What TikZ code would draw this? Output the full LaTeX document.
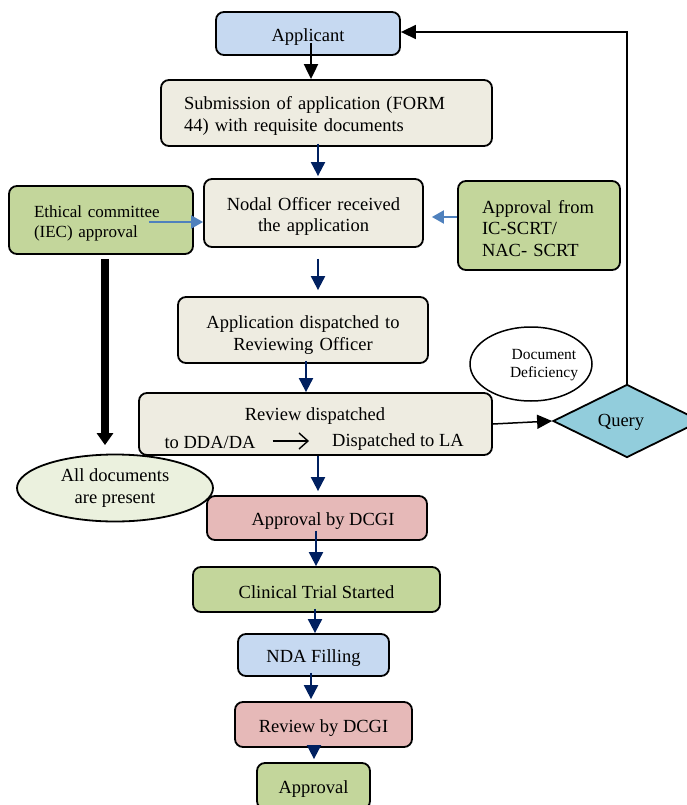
\documentclass[tikz,border=0pt]{standalone}
\usepackage{fontspec}
\setmainfont{Liberation Serif}
\usetikzlibrary{arrows.meta,shapes.geometric}
\definecolor{cblue}{HTML}{C6D9F1}
\definecolor{cbeige}{HTML}{EEECE1}
\definecolor{cgreen}{HTML}{C3D69B}
\definecolor{cpink}{HTML}{E6B9B8}
\definecolor{ccyan}{HTML}{92CDDC}
\definecolor{cpale}{HTML}{EBF1DE}
\definecolor{cnavy}{HTML}{002060}
\definecolor{carrowblue}{HTML}{4F81BD}
\tikzset{
  box/.style={draw=black, line width=1.8pt, rounded corners=8pt, inner sep=0pt, align=center,
    font=\fontsize{18.5}{21.5}\selectfont, execute at begin node={\rule{0pt}{19pt}}},
  txt/.style={inner sep=0pt, font=\fontsize{18.5}{21.5}\selectfont},
  navyarrow/.style={draw=cnavy, line width=2pt, -{Triangle[width=14pt,length=14pt]}, fill=cnavy},
  bluearrow/.style={draw=carrowblue, line width=2pt, -{Triangle[width=13pt,length=12pt]}},
  blkarrow/.style={draw=black, line width=2pt, -{Triangle[width=14pt,length=15pt]}},
  thickarrow/.style={draw=black, line width=8pt, -{Triangle[width=16pt,length=12pt]}},
}
\begin{document}
\begin{tikzpicture}[x=1pt,y=-1pt]
\useasboundingbox (0,0) rectangle (686,805);
% boxes
\node[box, fill=cblue, minimum width=184pt, minimum height=43pt] (app) at (308,33.5) {Applicant};
\node[box, fill=cbeige, minimum width=331pt, minimum height=66pt, inner xsep=23pt, text width=285pt, align=left] (sub) at (326.5,113) {Submission of application (FORM\\44) with requisite documents};
\node[box, fill=cbeige, minimum width=219pt, minimum height=68pt, text width=219pt, align=center, execute at begin node={\rule{0pt}{20pt}}] (nodal) at (313.5,213) {Nodal Officer received\\the application};
\node[box, fill=cgreen, minimum width=184pt, minimum height=68pt, inner xsep=25pt, text width=134pt, align=left, font=\fontsize{17}{20.5}\selectfont] (eth) at (101,220) {Ethical committee\\(IEC) approval};
\node[box, fill=cgreen, minimum width=162pt, minimum height=89pt, inner xsep=24pt, text width=114pt, align=left] (ic) at (539,225.5) {Approval from\\IC-SCRT/\\NAC- SCRT};
\node[box, fill=cbeige, minimum width=250pt, minimum height=66pt, text width=250pt, align=center, execute at begin node={\rule{0pt}{23pt}}] (disp) at (303,330) {Application dispatched to\\Reviewing Officer};
\node[box, fill=cbeige, minimum width=353pt, minimum height=62pt] (rev) at (315.5,424) {};
\node[txt] (revt) at (315,416) {Review dispatched};
\node[txt] (dda) at (210,442) {to DDA/DA};
\node[txt] (la) at (398,442) {Dispatched to LA};
\draw[line width=1.4pt, -{Straight Barb[width=16pt,length=9pt,line width=1.4pt]}] ([xshift=17pt,yshift=1pt]dda.east) -- ([xshift=-23pt,yshift=1pt]la.west);
\node[draw=black, line width=1.5pt, ellipse, minimum width=122pt, minimum height=74pt, inner sep=0pt] (dd) at (531,364) {};
\node[txt, align=center, font=\fontsize{15.5}{18}\selectfont] (ddt) at (544,365) {Document\\Deficiency};
\node[draw=black, line width=1.8pt, diamond, fill=ccyan, minimum width=148pt, minimum height=73pt, inner sep=0pt, aspect=2.03] (query) at (627,421) {};
\node[txt] (queryt) at (621,422) {Query};
\node[box, fill=cpink, minimum width=220pt, minimum height=44pt] (dcgi) at (317,518) {\hspace*{12pt}Approval by DCGI};
\node[draw=black, line width=1.8pt, ellipse, fill=cpale, minimum width=196pt, minimum height=67pt, inner sep=0pt, align=center, font=\fontsize{18.5}{21.5}\selectfont] (alldocs) at (115,488) {All documents\\are present};
\node[box, fill=cgreen, minimum width=247pt, minimum height=45pt] (clin) at (316.5,589.5) {Clinical Trial Started};
\node[box, fill=cblue, minimum width=151pt, minimum height=42pt] (nda) at (313.5,655) {NDA Filling};
\node[box, fill=cpink, minimum width=177pt, minimum height=45pt] (revd) at (323.5,724.5) {Review by DCGI};
\node[box, fill=cgreen, minimum width=113pt, minimum height=46pt] (appr) at (313.5,786) {Approval};
% connectors
\draw[blkarrow] ([xshift=3pt,yshift=13pt]app.south) -- ([xshift=-15.5pt]sub.north);
\draw[navyarrow] ([xshift=-8.5pt,yshift=3pt]sub.south) -- ([xshift=4.5pt,yshift=2pt]nodal.north);
\draw[bluearrow] ([xshift=-45pt,yshift=-2pt]eth.east) -- ([yshift=-9pt]nodal.west);
\draw[bluearrow] ([yshift=8.5pt]ic.west) -- ([xshift=8pt,yshift=-4pt]nodal.east);
\draw[navyarrow] ([xshift=4.5pt,yshift=-11pt]nodal.south) -- ([xshift=15pt,yshift=6pt]disp.north);
\draw[navyarrow] ([xshift=3pt,yshift=3pt]disp.south) -- ([xshift=-9.5pt]rev.north);
\draw[blkarrow, line width=1.5pt] (rev.east) -- (query.west);
\draw[blkarrow, line width=1.5pt] (query.north) |- ([yshift=1.5pt]app.east);
\draw[thickarrow] ([xshift=4pt,yshift=-4pt]eth.south) -- ([xshift=-10pt,yshift=8.5pt]alldocs.north);
\draw[navyarrow] ([xshift=2.5pt]rev.south) -- ([xshift=1pt,yshift=4pt]dcgi.north);
\draw[navyarrow] ([xshift=-1pt,yshift=10pt]dcgi.south) -- ([xshift=-0.5pt]clin.north);
\draw[navyarrow] ([xshift=-1.5pt,yshift=4pt]clin.south) -- ([xshift=1.5pt]nda.north);
\draw[navyarrow] ([xshift=-2.5pt,yshift=4pt]nda.south) -- ([xshift=-12.5pt,yshift=2pt]revd.north);
\draw[navyarrow] ([xshift=-9.5pt,yshift=2pt]revd.south) -- ([xshift=0.5pt,yshift=3pt]appr.north);
\end{tikzpicture}
\end{document}
